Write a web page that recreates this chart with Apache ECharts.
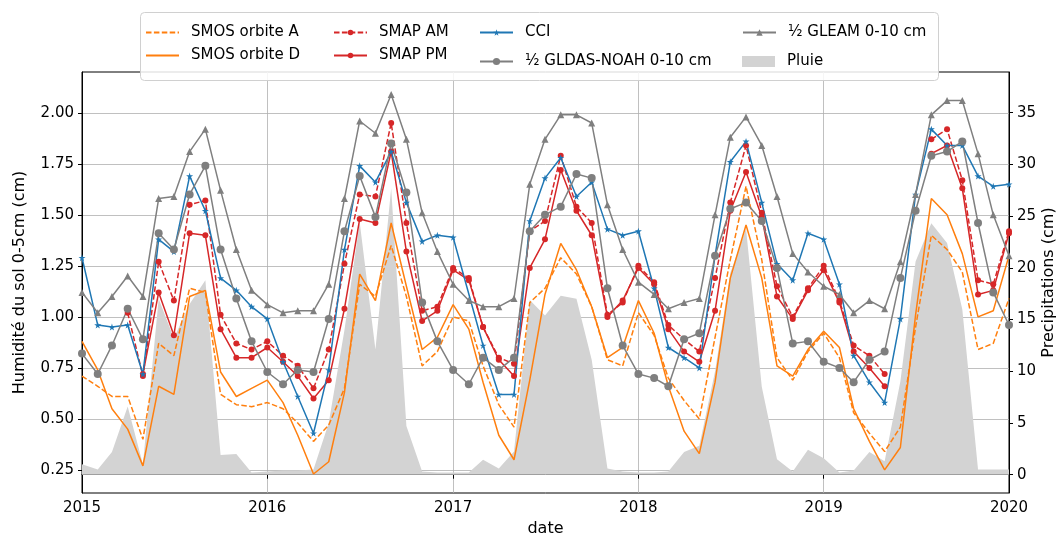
<!DOCTYPE html>
<html><head><meta charset="utf-8">
<script src="https://cdn.jsdelivr.net/npm/echarts@6/dist/echarts.min.js"></script>
<style>html,body{margin:0;padding:0;background:#fff}#c{width:1058px;height:537px}</style>
</head><body><div id="c"></div>
<script>
const months = ['2015-01-01','2015-02-01','2015-03-01','2015-04-01','2015-05-01','2015-06-01','2015-07-01','2015-08-01','2015-09-01','2015-10-01','2015-11-01','2015-12-01',
'2016-01-01','2016-02-01','2016-03-01','2016-04-01','2016-05-01','2016-06-01','2016-07-01','2016-08-01','2016-09-01','2016-10-01','2016-11-01','2016-12-01',
'2017-01-01','2017-02-01','2017-03-01','2017-04-01','2017-05-01','2017-06-01','2017-07-01','2017-08-01','2017-09-01','2017-10-01','2017-11-01','2017-12-01',
'2018-01-01','2018-02-01','2018-03-01','2018-04-01','2018-05-01','2018-06-01','2018-07-01','2018-08-01','2018-09-01','2018-10-01','2018-11-01','2018-12-01',
'2019-01-01','2019-02-01','2019-03-01','2019-04-01','2019-05-01','2019-06-01','2019-07-01','2019-08-01','2019-09-01','2019-10-01','2019-11-01','2019-12-01',
'2020-01-01'];

const smosA = [0.71,0.66,0.61,0.61,0.40,0.87,0.81,1.14,1.12,0.62,0.57,0.56,0.58,0.55,0.48,0.39,0.47,0.65,1.16,1.10,1.35,1.10,0.76,0.83,
1.00,0.98,0.76,0.57,0.46,1.07,1.14,1.29,1.21,1.05,0.79,0.76,1.02,0.91,0.70,0.59,0.50,0.90,1.28,1.64,1.28,0.80,0.69,0.83,
0.92,0.80,0.53,0.43,0.34,0.46,0.95,1.40,1.33,1.22,0.84,0.87,1.09];

const smosD = [0.88,0.74,0.55,0.45,0.27,0.66,0.62,1.10,1.13,0.73,0.61,0.65,0.69,0.58,0.42,0.23,0.29,0.63,1.21,1.08,1.46,1.15,0.84,0.90,
1.06,0.94,0.68,0.42,0.30,0.69,1.11,1.36,1.23,1.05,0.80,0.85,1.08,0.92,0.66,0.44,0.33,0.68,1.19,1.45,1.19,0.76,0.71,0.84,
0.93,0.85,0.55,0.39,0.25,0.36,1.01,1.58,1.50,1.31,1.00,1.03,1.30];

const smapAM = [null,null,null,1.02,0.71,1.27,1.08,1.55,1.57,1.01,0.87,0.84,0.88,0.81,0.76,0.65,0.84,1.26,1.60,1.59,1.95,1.46,1.03,1.05,
1.24,1.19,0.95,0.80,0.77,1.42,1.47,1.79,1.54,1.46,1.01,1.07,1.25,1.17,0.96,0.89,0.83,1.19,1.56,1.84,1.51,1.15,1.00,1.14,
1.25,1.08,0.86,0.81,0.72,null,null,1.87,1.92,1.67,1.18,1.16,1.42];

const smapPM = [null,null,null,null,0.72,1.12,0.91,1.41,1.40,0.94,0.80,0.80,0.85,0.78,0.71,0.60,0.69,1.04,1.48,1.46,1.81,1.32,0.98,1.03,
1.23,1.18,0.95,0.79,0.71,1.24,1.38,1.72,1.52,1.40,1.00,1.08,1.24,1.16,0.94,0.83,0.78,1.03,1.52,1.71,1.49,1.10,0.99,1.13,
1.23,1.07,0.83,0.75,0.66,null,null,1.80,1.84,1.63,1.11,1.13,1.41];

const cci = [1.29,0.96,0.95,0.96,0.72,1.38,1.32,1.69,1.52,1.19,1.13,1.05,0.99,0.78,0.61,0.43,0.74,1.33,1.74,1.66,1.81,1.56,1.37,1.40,
1.39,null,0.86,0.62,0.62,1.47,1.68,1.78,1.59,1.66,1.43,1.40,1.42,1.14,0.85,0.80,0.75,1.30,1.76,1.86,1.56,1.26,1.18,1.41,
1.38,1.16,0.81,0.68,0.58,0.99,1.60,1.92,1.84,1.84,1.69,1.64,1.65];

const gldas = [0.82,0.72,0.86,1.04,0.89,1.41,1.33,1.60,1.74,1.33,1.09,0.88,0.73,0.67,0.74,0.73,0.99,1.42,1.69,1.49,1.85,1.61,1.07,0.88,
0.74,0.67,0.80,0.74,0.80,1.42,1.50,1.54,1.70,1.68,1.14,0.86,0.72,0.70,0.66,0.89,0.92,1.30,1.53,1.56,1.47,1.24,0.87,0.88,
0.78,0.75,0.68,0.79,0.83,1.19,1.52,1.79,1.81,1.86,1.46,1.12,0.96];

const gleam = [1.12,1.02,1.10,1.20,1.10,1.58,1.59,1.81,1.92,1.62,1.33,1.13,1.06,1.02,1.03,1.03,1.16,1.58,1.96,1.90,2.09,1.87,1.51,1.32,
1.16,1.08,1.05,1.05,1.09,1.65,1.87,1.99,1.99,1.95,1.55,1.33,1.17,1.11,1.04,1.07,1.09,1.50,1.88,1.98,1.84,1.59,1.31,1.22,
1.15,1.11,1.02,1.08,1.04,1.27,1.60,1.99,2.06,2.06,1.80,1.50,1.30];

const pluie = [1.0,0.5,2.2,6.6,1.0,17.0,13.2,16.5,18.8,1.9,2.0,0.2,0.3,0.4,0.4,0.5,5.0,14.0,24.4,12.1,27.7,4.7,0.3,0.2,
0.2,0.2,1.45,0.6,2.25,16.9,15.4,17.3,17.0,11.1,0.6,0.3,0.2,0.2,0.3,2.2,2.8,10.0,19.5,23.8,8.5,1.5,0.3,2.4,
1.6,0.2,0.4,2.2,1.3,9.0,20.6,24.3,22.4,16.0,0.5,0.5,0.5];

const leftTicks = [0.25,0.50,0.75,1.00,1.25,1.50,1.75,2.00];
const rightTicks = [0,5,10,15,20,25,30,35];

const FONT = 'DejaVu Sans';
const pair = arr => months.map((m, i) => [m, arr[i]]);
const STAR = 'path://M50,0 L61,35 L98,35 L68,57 L79,91 L50,70 L21,91 L32,57 L2,35 L39,35 Z';

const chart = echarts.init(document.getElementById('c'), null, {renderer: 'canvas'});

const legendDefs = [
  {name: 'SMOS orbite A', left: 145, top: 25, h: 8, hide: true},
  {name: 'SMOS orbite D', left: 145, top: 48, h: 8, hide: true},
  {name: 'SMAP AM', left: 333, top: 25, h: 7},
  {name: 'SMAP PM', left: 333, top: 48, h: 7},
  {name: 'CCI', left: 479, top: 25, h: 8},
  {name: '½ GLDAS-NOAH 0-10 cm', left: 479, top: 54, h: 9},
  {name: '½ GLEAM 0-10 cm', left: 742, top: 25, h: 8},
  {name: 'Pluie', left: 742, top: 54, h: 11, icon: 'rect'}
];

const legends = legendDefs.map(d => {
  const lg = {
    data: [d.icon ? {name: d.name, icon: d.icon} : {name: d.name}],
    left: d.left, top: d.top, orient: 'vertical',
    itemWidth: 33, itemHeight: d.h,
    selectedMode: false, z: 10, padding: 0,
    textStyle: {fontFamily: FONT, fontSize: 15, color: '#000', padding: [0, 0, 0, 7]}
  };
  if (d.hide) lg.itemStyle = {opacity: 0};
  return lg;
});

const lineBase = (name, data, color, extra) => Object.assign({
  name, type: 'line', data: pair(data), yAxisIndex: 0, z: 3,
  lineStyle: {color, width: 1.5}, itemStyle: {color},
  symbol: 'none', animation: false, emphasis: {disabled: true}
}, extra);

const option = {
  animation: false,
  grid: {left: 82, right: 49, top: 72, bottom: 44, show: true, borderColor: '#000', borderWidth: 1,
         backgroundColor: 'transparent', containLabel: false, outerBoundsMode: 'none'},
  legend: legends,
  graphic: [{
    type: 'rect', left: 140, top: 12, z: 5,
    shape: {width: 798, height: 68, r: 4},
    style: {fill: 'rgba(255,255,255,0.85)', stroke: '#d0d0d0', lineWidth: 1}
  }],
  xAxis: {
    type: 'time', min: '2015-01-01', max: '2020-01-01',
    minInterval: 365 * 86400000, splitNumber: 5,
    axisLine: {lineStyle: {color: '#000', width: 1}},
    axisTick: {show: true, length: 4, lineStyle: {color: '#000'}},
    axisLabel: {formatter: '{yyyy}', fontFamily: FONT, fontSize: 15, color: '#000', margin: 8,
                showMinLabel: true, showMaxLabel: true, hideOverlap: false},
    splitLine: {show: true, lineStyle: {color: '#b0b0b0', width: 0.8}},
    name: 'date', nameLocation: 'middle', nameGap: 28,
    nameTextStyle: {fontFamily: FONT, fontSize: 16, color: '#000'}
  },
  yAxis: [{
    type: 'value', min: 0.137, max: 2.2, position: 'left',
    axisLine: {show: true, lineStyle: {color: '#000'}},
    axisTick: {show: true, length: 4, lineStyle: {color: '#000'}, customValues: leftTicks},
    axisLabel: {customValues: leftTicks, formatter: v => v.toFixed(2), fontFamily: FONT, fontSize: 15, color: '#000', margin: 8},
    splitLine: {show: true, lineStyle: {color: '#b0b0b0', width: 0.8}},
    name: 'Humidité du sol 0-5cm (cm)', nameLocation: 'middle', nameGap: 54, nameRotate: 90,
    nameTextStyle: {fontFamily: FONT, fontSize: 16, color: '#000'}
  }, {
    type: 'value', min: -1.77, max: 38.93, position: 'right',
    axisLine: {show: true, lineStyle: {color: '#000'}},
    axisTick: {show: true, length: 4, lineStyle: {color: '#000'}, customValues: rightTicks},
    axisLabel: {customValues: rightTicks, formatter: v => String(Math.round(v)), fontFamily: FONT, fontSize: 15, color: '#000', margin: 8},
    splitLine: {show: false},
    name: 'Precipitations (cm)', nameLocation: 'middle', nameGap: 32, nameRotate: 90, nameMoveOverlap: false,
    nameTextStyle: {fontFamily: FONT, fontSize: 16, color: '#000'}
  }],
  series: [
    {
      name: 'Pluie', type: 'line', data: pair(pluie), yAxisIndex: 1, z: 1,
      symbol: 'none', lineStyle: {width: 0, color: '#d3d3d3'}, itemStyle: {color: '#d3d3d3'},
      areaStyle: {color: '#d3d3d3', opacity: 1}, animation: false, emphasis: {disabled: true}
    },
    lineBase('SMOS orbite A', smosA, '#ff7f0e', {lineStyle: {color: '#ff7f0e', width: 1.5, type: [5.5, 2.4]}}),
    lineBase('SMOS orbite D', smosD, '#ff7f0e'),
    lineBase('SMAP AM', smapAM, '#d62728', {symbol: 'circle', symbolSize: 6, lineStyle: {color: '#d62728', width: 1.5, type: [5.5, 2.4]}}),
    lineBase('SMAP PM', smapPM, '#d62728', {symbol: 'circle', symbolSize: 6}),
    lineBase('CCI', cci, '#1f77b4', {symbol: STAR, symbolSize: 7, connectNulls: true}),
    lineBase('½ GLDAS-NOAH 0-10 cm', gldas, '#7f7f7f', {symbol: 'circle', symbolSize: 8}),
    lineBase('½ GLEAM 0-10 cm', gleam, '#7f7f7f', {symbol: 'triangle', symbolSize: 7})
  ]
};
chart.setOption(option);
</script>
</body></html>
